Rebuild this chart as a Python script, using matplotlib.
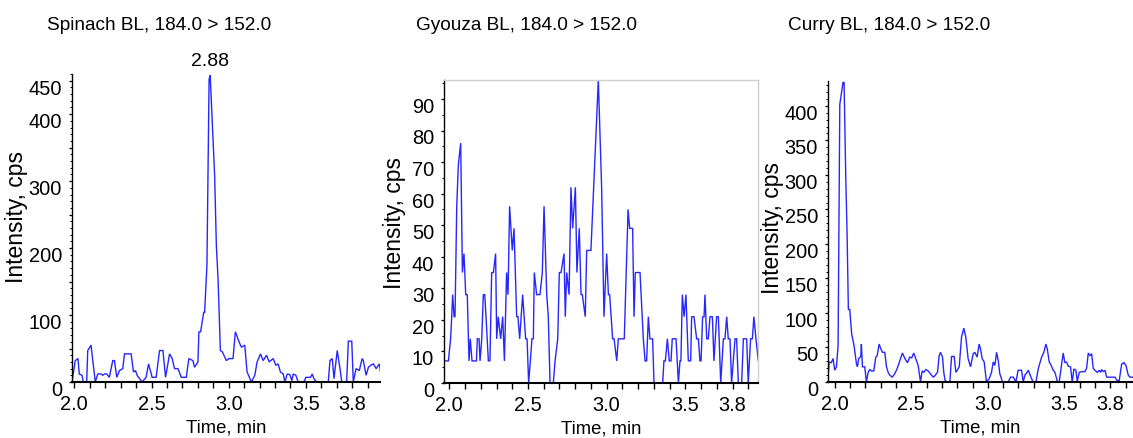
import matplotlib
matplotlib.use("Agg")
import matplotlib.pyplot as plt
import numpy as np
from matplotlib.ticker import MultipleLocator, FuncFormatter
from matplotlib.transforms import ScaledTranslation

plt.rcParams['font.family'] = ['Liberation Sans', 'DejaVu Sans']

# ---- chromatogram traces (time in min, intensity in cps) ----
spinach_time = [
    1.985, 2.006, 2.024, 2.032, 2.050, 2.058, 2.080, 2.087, 2.108, 2.136,
    2.152, 2.173, 2.184, 2.195, 2.210, 2.227, 2.249, 2.260, 2.275, 2.292,
    2.314, 2.325, 2.368, 2.383, 2.396, 2.407, 2.439, 2.465, 2.481, 2.504,
    2.530, 2.552, 2.574, 2.591, 2.617, 2.634, 2.649, 2.671, 2.693, 2.725,
    2.742, 2.768, 2.779, 2.801, 2.807, 2.818, 2.838, 2.844, 2.859, 2.873,
    2.880, 2.909, 2.920, 2.931, 2.946, 2.959, 2.985, 3.002, 3.028, 3.043,
    3.067, 3.082, 3.104, 3.119, 3.147, 3.169, 3.184, 3.206, 3.223, 3.245,
    3.262, 3.288, 3.305, 3.320, 3.335, 3.353, 3.364, 3.379, 3.396, 3.409,
    3.418, 3.435, 3.450, 3.487, 3.500, 3.530, 3.541, 3.552, 3.569, 3.645,
    3.656, 3.671, 3.682, 3.703, 3.721, 3.732, 3.764, 3.775, 3.797, 3.807,
    3.825, 3.846, 3.864, 3.872, 3.890, 3.905, 3.920, 3.937, 3.955, 3.976,
    3.985]
spinach_cps = [
    0, 32, 35, 12, 10, 0, 0, 47, 55, 0,
    12, 12, 10, 12, 12, 7, 32, 32, 7, 17,
    20, 42, 42, 15, 17, 10, 0, 7, 27, 7,
    7, 47, 47, 7, 42, 35, 20, 20, 7, 7,
    35, 32, 22, 30, 75, 75, 104, 104, 174, 452,
    458, 308, 204, 154, 47, 45, 32, 35, 35, 75,
    60, 52, 55, 15, 0, 10, 30, 42, 32, 40,
    30, 35, 25, 27, 15, 12, 0, 12, 11, 2,
    12, 10, 0, 0, 7, 7, 12, 5, 0, 0,
    32, 35, 5, 47, 20, 0, 0, 61, 61, 0,
    20, 17, 35, 32, 10, 22, 25, 27, 20, 27,
    12]

gyouza_time = [
    1.966, 1.994, 2.008, 2.015, 2.021, 2.030, 2.036, 2.047, 2.057, 2.072,
    2.083, 2.093, 2.104, 2.114, 2.125, 2.133, 2.144, 2.163, 2.172, 2.178,
    2.189, 2.195, 2.206, 2.216, 2.225, 2.233, 2.248, 2.258, 2.269, 2.280,
    2.294, 2.301, 2.311, 2.326, 2.339, 2.350, 2.364, 2.373, 2.383, 2.400,
    2.411, 2.428, 2.436, 2.447, 2.466, 2.485, 2.494, 2.504, 2.515, 2.525,
    2.534, 2.540, 2.555, 2.576, 2.591, 2.602, 2.619, 2.629, 2.640, 2.661,
    2.672, 2.689, 2.699, 2.710, 2.729, 2.737, 2.746, 2.761, 2.773, 2.784,
    2.801, 2.811, 2.826, 2.837, 2.845, 2.864, 2.873, 2.900, 2.947, 2.968,
    2.983, 3.000, 3.011, 3.019, 3.038, 3.047, 3.064, 3.074, 3.112, 3.136,
    3.146, 3.165, 3.174, 3.182, 3.212, 3.233, 3.244, 3.254, 3.265, 3.275,
    3.292, 3.301, 3.356, 3.364, 3.373, 3.386, 3.398, 3.409, 3.417, 3.441,
    3.456, 3.466, 3.472, 3.481, 3.492, 3.504, 3.519, 3.534, 3.540, 3.555,
    3.572, 3.583, 3.593, 3.600, 3.610, 3.619, 3.625, 3.636, 3.646, 3.657,
    3.672, 3.682, 3.699, 3.710, 3.725, 3.742, 3.752, 3.763, 3.773, 3.784,
    3.794, 3.816, 3.826, 3.837, 3.858, 3.869, 3.890, 3.900, 3.915, 3.926,
    3.936, 3.949, 3.964, 3.975]
gyouza_cps = [
    7, 7, 14, 21, 28, 21, 21, 56, 69, 76,
    35, 41, 28, 28, 7, 14, 7, 7, 7, 14,
    14, 7, 14, 28, 28, 21, 7, 7, 35, 35,
    41, 14, 21, 14, 21, 7, 35, 28, 56, 42,
    49, 21, 21, 14, 28, 14, 14, 0, 7, 14,
    14, 35, 28, 28, 35, 56, 28, 21, 0, 0,
    7, 14, 35, 35, 41, 21, 35, 28, 62, 49,
    62, 35, 49, 28, 28, 21, 42, 42, 96, 62,
    21, 41, 28, 28, 14, 14, 7, 14, 14, 55,
    49, 49, 21, 35, 35, 14, 7, 7, 21, 14,
    14, 0, 0, 7, 7, 14, 7, 7, 14, 14,
    0, 7, 7, 28, 21, 28, 7, 7, 21, 21,
    14, 14, 7, 7, 21, 21, 28, 14, 14, 21,
    21, 7, 21, 21, 0, 14, 14, 21, 14, 14,
    0, 14, 14, 0, 0, 14, 14, 0, 14, 14,
    21, 14, 7, 14]

curry_time = [
    1.956, 1.963, 1.978, 1.989, 2.000, 2.011, 2.022, 2.033, 2.054, 2.061,
    2.072, 2.081, 2.089, 2.098, 2.111, 2.126, 2.142, 2.148, 2.157, 2.170,
    2.174, 2.181, 2.196, 2.207, 2.218, 2.229, 2.240, 2.255, 2.268, 2.277,
    2.290, 2.301, 2.312, 2.327, 2.338, 2.349, 2.359, 2.375, 2.392, 2.407,
    2.425, 2.442, 2.458, 2.475, 2.490, 2.503, 2.516, 2.529, 2.545, 2.560,
    2.571, 2.582, 2.595, 2.610, 2.625, 2.643, 2.654, 2.671, 2.682, 2.691,
    2.704, 2.712, 2.721, 2.734, 2.752, 2.763, 2.780, 2.791, 2.800, 2.813,
    2.828, 2.843, 2.856, 2.871, 2.887, 2.904, 2.915, 2.930, 2.943, 2.952,
    2.963, 2.976, 2.991, 3.009, 3.024, 3.035, 3.046, 3.057, 3.068, 3.078,
    3.096, 3.133, 3.148, 3.166, 3.183, 3.198, 3.220, 3.231, 3.242, 3.253,
    3.264, 3.285, 3.296, 3.314, 3.329, 3.351, 3.366, 3.379, 3.388, 3.401,
    3.414, 3.427, 3.438, 3.455, 3.466, 3.481, 3.492, 3.503, 3.514, 3.525,
    3.540, 3.551, 3.562, 3.575, 3.584, 3.597, 3.612, 3.634, 3.645, 3.656,
    3.667, 3.678, 3.688, 3.699, 3.715, 3.728, 3.736, 3.743, 3.754, 3.765,
    3.776, 3.786, 3.808, 3.830, 3.845, 3.858, 3.874, 3.889, 3.902, 3.917,
    3.928, 3.950]
curry_cps = [
    5, 29, 28, 34, 17, 22, 53, 402, 434, 434,
    297, 211, 105, 105, 69, 53, 26, 22, 34, 37,
    55, 22, 22, 0, 14, 18, 16, 16, 36, 38,
    55, 48, 43, 43, 22, 14, 10, 7, 12, 19,
    31, 42, 34, 28, 36, 35, 42, 34, 24, 0,
    16, 14, 18, 16, 12, 7, 9, 14, 38, 43,
    36, 14, 2, 0, 0, 37, 37, 14, 17, 22,
    65, 78, 65, 34, 22, 41, 43, 36, 55, 48,
    34, 29, 0, 5, 14, 29, 24, 43, 31, 12,
    0, 0, 7, 7, 0, 17, 17, 0, 10, 13,
    17, 5, 0, 0, 19, 36, 43, 55, 48, 29,
    24, 17, 14, 0, 0, 24, 42, 28, 29, 23,
    22, 0, 19, 17, 1, 14, 15, 15, 20, 42,
    38, 41, 20, 17, 14, 17, 14, 18, 15, 17,
    7, 7, 7, 7, 2, 2, 26, 28, 24, 10,
    7, 7]

titles = ["Spinach BL, 184.0 > 152.0", "Gyouza BL, 184.0 > 152.0",
          "Curry BL, 184.0 > 152.0"]
x_labeled = [2.0, 2.5, 3.0, 3.5, 3.8]
spinach_ylabels = [0, 100, 200, 300, 400, 450]
gyouza_ylabels = [0, 10, 20, 30, 40, 50, 60, 70, 80, 90]
curry_ylabels = [0, 50, 100, 150, 200, 250, 300, 350, 400]

W, H = 1133, 439
fig = plt.figure(figsize=(W / 100, H / 100), dpi=100)

line_color = '#2626ff'
label_shift = ScaledTranslation(0, -0.055, fig.dpi_scale_trans)
zero_shift = ScaledTranslation(-0.05, -0.055, fig.dpi_scale_trans)


def make_panel(rect_px, t, y, xlim, ylim, ymajor, yminor, ylabels,
               ylabel_pos, boxed):
    left, top, right, bottom = rect_px
    ax = fig.add_axes([left / W, 1 - bottom / H,
                       (right - left) / W, (bottom - top) / H])
    ax.plot(t, y, color=line_color, lw=1.0, solid_joinstyle='miter')
    ax.set_xlim(*xlim)
    ax.set_ylim(*ylim)

    ax.xaxis.set_major_locator(MultipleLocator(0.1))
    ax.xaxis.set_major_formatter(FuncFormatter(
        lambda v, p: f"{v:.1f}" if any(abs(v - q) < 1e-6 for q in x_labeled) else ""))
    ax.yaxis.set_major_locator(MultipleLocator(ymajor))
    ax.yaxis.set_minor_locator(MultipleLocator(yminor))
    ax.yaxis.set_major_formatter(FuncFormatter(
        lambda v, p: f"{v:.0f}" if any(abs(v - q) < 1e-6 for q in ylabels) else ""))

    ax.tick_params(axis='x', which='major', direction='out', length=4,
                   width=1.0, pad=4.5, labelsize=14.4)
    ax.tick_params(axis='y', which='major', direction='out', length=2.5,
                   width=0.9, pad=1, labelsize=14.4)
    ax.tick_params(axis='y', which='minor', direction='out', length=1.5,
                   width=0.7)

    for side in ('top', 'right'):
        if boxed:
            ax.spines[side].set_color('#cfcfcf')
            ax.spines[side].set_linewidth(1.0)
        else:
            ax.spines[side].set_visible(False)
    ax.spines['left'].set_linewidth(1.0)
    ax.spines['bottom'].set_linewidth(1.5)

    ax.set_xlabel('Time, min', fontsize=13.3, va='center')
    ax.xaxis.set_label_coords(0.5, -45 / (bottom - top))
    ax.set_ylabel('Intensity, cps', fontsize=16.5, va='center')
    ax.yaxis.set_label_coords((ylabel_pos[0] - left) / (right - left),
                              (bottom - ylabel_pos[1]) / (bottom - top))

    for tick in ax.yaxis.get_major_ticks():
        lbl = tick.label1
        shift = zero_shift if abs(tick.get_loc()) < 1e-9 else label_shift
        lbl.set_transform(lbl.get_transform() + shift)
    return ax


ax1 = make_panel((72, 75, 380, 383), spinach_time, spinach_cps,
                 (1.985, 3.98), (0, 460), 50, 10, spinach_ylabels,
                 (17, 217), False)
ax2 = make_panel((444, 81, 758, 384), gyouza_time, gyouza_cps,
                 (1.966, 3.962), (0, 96), 10, 5, gyouza_ylabels,
                 (395, 223), True)
ax3 = make_panel((828, 82, 1133, 383), curry_time, curry_cps,
                 (1.956, 3.948), (0, 436), 50, 10, curry_ylabels,
                 (772, 228), False)

# retention time of the largest peak in the spinach trace
k = int(np.argmax(spinach_cps))
ax1.annotate(f"{spinach_time[k]:.2f}", xy=(spinach_time[k], 460),
             xytext=(0, 9.5), textcoords='offset points',
             ha='center', va='center', fontsize=14)

for x_left, title in zip((47, 416, 788), titles):
    fig.text(x_left / W, 1 - 26 / H, title, ha='left', va='center',
             fontsize=13.7)

fig.savefig('out.png', dpi=100)
